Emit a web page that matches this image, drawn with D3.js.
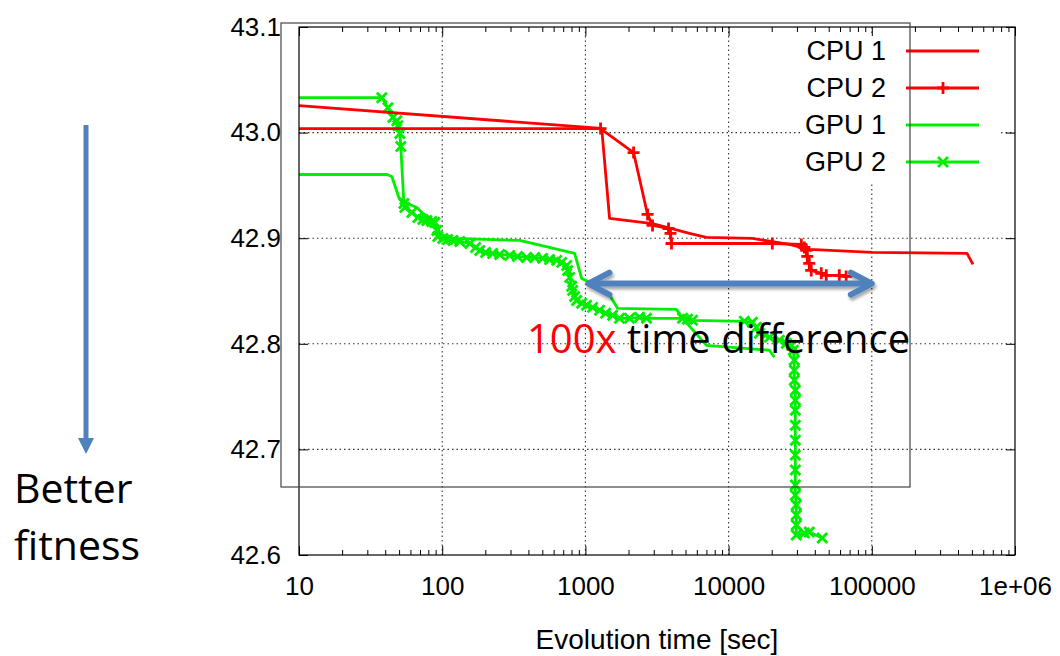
<!DOCTYPE html>
<html>
<head>
<meta charset="utf-8">
<script src="https://cdn.jsdelivr.net/npm/d3@7"></script>
<style>
  body { margin: 0; background: #fff; }
  svg { display: block; }
</style>
</head>
<body>
<div id="chart"></div>
<script>
// axis ticks
var xTicks = [10, 100, 1000, 10000, 100000, 1000000];
var xTickLabels = ["10", "100", "1000", "10000", "100000", "1e+06"];
var yTicks = [42.6, 42.7, 42.8, 42.9, 43.0, 43.1];

var seriesNames = ["CPU 1", "CPU 2", "GPU 1", "GPU 2"];

// [time (sec), fitness]
var cpu1 = [
    [10, 43.0255], [1300, 43.004], [1475, 42.9187], [2943, 42.9139], [5331, 42.9045],
    [7000, 42.9007], [14660, 42.8998], [26550, 42.8941], [36580, 42.8894],
    [100700, 42.8865], [462000, 42.8856], [509000, 42.8752]
];
var cpu2 = [
    [5, 43.0038], [1276, 43.0038], [2170, 42.9811], [2717, 42.9225], [2943, 42.9121],
    [3805, 42.9092], [3929, 42.9045], [3993, 42.895], [20200, 42.895], [32210, 42.8941],
    [33810, 42.8912], [34910, 42.8884], [35430, 42.8827], [36580, 42.8761],
    [37760, 42.8695], [44360, 42.8667], [48080, 42.8648], [59290, 42.8648], [66200, 42.8638]
];
var gpu1 = [
    [10, 42.9603], [41.1, 42.9603], [44.5, 42.9584], [46.7, 42.9499], [49.8, 42.9385],
    [54.9, 42.9338], [66.5, 42.9291], [73.3, 42.9234], [86.0, 42.9168], [99.3, 42.9026],
    [119, 42.8998], [348, 42.8979], [841, 42.8856], [942, 42.8619], [1069, 42.8582],
    [1475, 42.8459], [1679, 42.8336], [4327, 42.8326], [4767, 42.8241], [7000, 42.7986],
    [19270, 42.7939], [20860, 42.7872]
];
var gpu2 = [
    [5, 43.0331], [37.9, 43.0331], [41.8, 43.0236], [45.2, 43.0142], [48.2, 43.0113],
    [49.0, 43.0066], [50.6, 42.9991], [51.4, 42.9868], [54.0, 42.9329], [54.9, 42.9291],
    [61.4, 42.9243], [67.6, 42.9196], [73.3, 42.9177], [78.1, 42.9168], [84.6, 42.9158],
    [88.8, 42.9149], [91.7, 42.9073], [93.2, 42.9017], [101, 42.8998], [109, 42.8988],
    [119, 42.8979], [132.7, 42.8969], [156, 42.895], [171, 42.8912], [183, 42.8884],
    [201, 42.8865], [225, 42.8856], [252, 42.8846], [296, 42.8837], [336, 42.8827],
    [389, 42.8818], [443, 42.8818], [503, 42.8809], [562, 42.8799], [630, 42.879],
    [683, 42.8771], [740, 42.8742], [752, 42.8695], [776, 42.8629], [802, 42.8544],
    [815, 42.8506], [841, 42.8449], [869, 42.8411], [942, 42.8383], [1019, 42.8364],
    [1122, 42.8345], [1256, 42.8317], [1384, 42.8289], [1549, 42.827], [1730, 42.8241],
    [2032, 42.8241], [2388, 42.8251], [2673, 42.8241], [4767, 42.8241], [5164, 42.8232],
    [5596, 42.8222], [12880, 42.8213], [14660, 42.8203], [15630, 42.8156], [16400, 42.8099],
    [19270, 42.8061], [22600, 42.8033], [25290, 42.8005], [27400, 42.7986], [28310, 42.7939],
    [28760, 42.7844], [28760, 42.7749], [28760, 42.7655], [29240, 42.756], [29240, 42.7466],
    [29240, 42.7371], [29240, 42.7229], [29240, 42.7087], [29240, 42.6946], [29240, 42.6804],
    [29240, 42.6662], [29240, 42.6567], [29700, 42.6473], [29700, 42.6378], [29700, 42.6284],
    [29700, 42.6189], [33810, 42.6208], [36580, 42.6217], [45080, 42.6161]
];

var svgWidth = 1060;
var svgHeight = 656;

var plot = { left: 299, right: 1015, top: 27, bottom: 555 };

var svg = d3.select("#chart")
    .append("svg")
    .attr("width", svgWidth)
    .attr("height", svgHeight);

var x = d3.scaleLog().domain([10, 1e6]).range([plot.left, plot.right]);
var y = d3.scaleLinear().domain([42.6, 43.1]).range([plot.bottom, plot.top]);

var red = "#ff0000";
var green = "#00ee00";
var blue = "#4f81bd";
var gnuFont = "'Liberation Sans', Arial, sans-serif";
var slideFont = "'Open Sans', 'Noto Sans', sans-serif";

var defs = svg.append("defs");
defs.append("clipPath").attr("id", "plotClip")
    .append("rect")
    .attr("x", plot.left).attr("y", plot.top)
    .attr("width", plot.right - plot.left).attr("height", plot.bottom - plot.top);

var shadow = defs.append("filter").attr("id", "shadow")
    .attr("x", "-10%").attr("y", "-50%").attr("width", "120%").attr("height", "200%");
shadow.append("feDropShadow")
    .attr("dx", 1.5).attr("dy", 3).attr("stdDeviation", 1.8)
    .attr("flood-color", "#000").attr("flood-opacity", 0.35);

// dotted grid
var grid = svg.append("g").attr("stroke", "#333").attr("stroke-width", 1.1).attr("stroke-dasharray", "1.5,3");
grid.selectAll(".gx")
    .data(xTicks.slice(1, -1))
    .enter().append("line")
    .attr("x1", d => x(d)).attr("x2", d => x(d))
    .attr("y1", plot.top).attr("y2", plot.bottom);
grid.selectAll(".gy")
    .data(yTicks.slice(1, -1))
    .enter().append("line")
    .attr("x1", plot.left).attr("x2", plot.right)
    .attr("y1", d => y(d)).attr("y2", d => y(d));

// opaque key box (gnuplot hides the grid behind it)
svg.append("rect")
    .attr("x", 800).attr("y", 33).attr("width", 201).attr("height", 150)
    .attr("fill", "#fff");

// data lines
var line = d3.line().x(d => x(d[0])).y(d => y(d[1]));
var dataGroup = svg.append("g").attr("clip-path", "url(#plotClip)");

function plusPath(s) { return `M${-s},0H${s}M0,${-s}V${s}`; }
function crossPath(s) { return `M${-s},${-s}L${s},${s}M${-s},${s}L${s},${-s}`; }

function drawSeries(data, color, marker) {
    dataGroup.append("path")
        .datum(data)
        .attr("d", line)
        .attr("fill", "none")
        .attr("stroke", color)
        .attr("stroke-width", 2.8)
        .attr("stroke-linejoin", "round");
    if (marker) {
        dataGroup.selectAll(null)
            .data(data)
            .enter().append("path")
            .attr("transform", d => `translate(${x(d[0])},${y(d[1])})`)
            .attr("d", marker)
            .attr("stroke", color)
            .attr("stroke-width", 2.8)
            .attr("fill", "none");
    }
}

drawSeries(gpu1, green, null);
drawSeries(gpu2, green, crossPath(5));
drawSeries(cpu1, red, null);
drawSeries(cpu2, red, plusPath(6));

// axes (ticks inward, like gnuplot)
function styleAxis(g) {
    g.select(".domain").remove();
    g.selectAll(".tick line").attr("stroke", "#000").attr("stroke-width", 1);
    g.selectAll("text")
        .attr("font-family", gnuFont)
        .attr("font-size", 26)
        .attr("fill", "#000");
}

var minorX = [];
xTicks.slice(0, -1).forEach(function (d) {
    for (var m = 2; m < 10; m++) minorX.push(d * m);
});

svg.append("g")
    .attr("transform", `translate(0,${plot.bottom})`)
    .call(d3.axisBottom(x).tickValues(xTicks).tickFormat((d, i) => xTickLabels[i])
        .tickSize(-9).tickPadding(22))
    .call(styleAxis);
svg.append("g")
    .attr("transform", `translate(0,${plot.bottom})`)
    .call(d3.axisBottom(x).tickValues(minorX).tickFormat("").tickSize(-5))
    .call(styleAxis);
svg.append("g")
    .attr("transform", `translate(0,${plot.top})`)
    .call(d3.axisTop(x).tickValues(xTicks).tickFormat("").tickSize(-9))
    .call(styleAxis);
svg.append("g")
    .attr("transform", `translate(0,${plot.top})`)
    .call(d3.axisTop(x).tickValues(minorX).tickFormat("").tickSize(-5))
    .call(styleAxis);
svg.append("g")
    .attr("transform", `translate(${plot.left},0)`)
    .call(d3.axisLeft(y).tickValues(yTicks).tickFormat(d3.format(".1f"))
        .tickSize(-9).tickPadding(18))
    .call(styleAxis);
svg.append("g")
    .attr("transform", `translate(${plot.right},0)`)
    .call(d3.axisRight(y).tickValues(yTicks).tickFormat("").tickSize(-9))
    .call(styleAxis);

// frame
svg.append("rect")
    .attr("x", plot.left).attr("y", plot.top)
    .attr("width", plot.right - plot.left).attr("height", plot.bottom - plot.top)
    .attr("fill", "none").attr("stroke", "#000").attr("stroke-width", 1.2);

// x axis label
svg.append("text")
    .attr("x", 657).attr("y", 649)
    .attr("text-anchor", "middle")
    .attr("font-family", gnuFont)
    .attr("font-size", 28)
    .text("Evolution time [sec]");

// legend
var legendColors = [red, red, green, green];
var legendMarkers = [null, plusPath(6), null, crossPath(5)];
var legend = svg.append("g");
seriesNames.forEach(function (name, i) {
    var ly = 51 + i * 37;
    legend.append("text")
        .attr("x", 886).attr("y", ly + 9)
        .attr("text-anchor", "end")
        .attr("font-family", gnuFont)
        .attr("font-size", 27)
        .text(name);
    legend.append("line")
        .attr("x1", 906).attr("x2", 979)
        .attr("y1", ly).attr("y2", ly)
        .attr("stroke", legendColors[i]).attr("stroke-width", 2.8);
    if (legendMarkers[i]) {
        legend.append("path")
            .attr("transform", `translate(943,${ly})`)
            .attr("d", legendMarkers[i])
            .attr("stroke", legendColors[i]).attr("stroke-width", 2.8).attr("fill", "none");
    }
});

// slide frame drawn over the plot
svg.append("rect")
    .attr("x", 281).attr("y", 23).attr("width", 629).attr("height", 464)
    .attr("fill", "none").attr("stroke", "#444").attr("stroke-width", 1.2);

// "100x" double arrow between 1000 s and 100000 s
var ay = y(42.857);
var ax1 = x(1000) + 3, ax2 = x(100000);
var arrow = svg.append("g").attr("filter", "url(#shadow)")
    .attr("stroke", blue).attr("fill", "none")
    .attr("stroke-width", 6).attr("stroke-linecap", "round").attr("stroke-linejoin", "round");
arrow.append("line")
    .attr("x1", ax1 + 2).attr("x2", ax2 - 2).attr("y1", ay).attr("y2", ay);
arrow.append("path")
    .attr("d", `M${ax1 + 21},${ay - 11}L${ax1},${ay}L${ax1 + 21},${ay + 11}`);
arrow.append("path")
    .attr("d", `M${ax2 - 21},${ay - 11}L${ax2},${ay}L${ax2 - 21},${ay + 11}`);

var note = svg.append("text")
    .attr("x", 527).attr("y", 353)
    .attr("font-family", slideFont)
    .attr("font-size", 40);
note.append("tspan").attr("fill", red).text("100x");
note.append("tspan").attr("fill", "#000").text(" time difference");

// "better fitness" arrow on the left
svg.append("line")
    .attr("x1", 86).attr("x2", 86).attr("y1", 125).attr("y2", 440)
    .attr("stroke", blue).attr("stroke-width", 5);
svg.append("path")
    .attr("d", "M78,438L94,438L86,454Z")
    .attr("fill", blue);

svg.append("text")
    .attr("x", 14).attr("y", 503)
    .attr("font-family", slideFont)
    .attr("font-size", 41)
    .text("Better");
svg.append("text")
    .attr("x", 14).attr("y", 560)
    .attr("font-family", slideFont)
    .attr("font-size", 41)
    .text("fitness");
</script>
</body>
</html>
